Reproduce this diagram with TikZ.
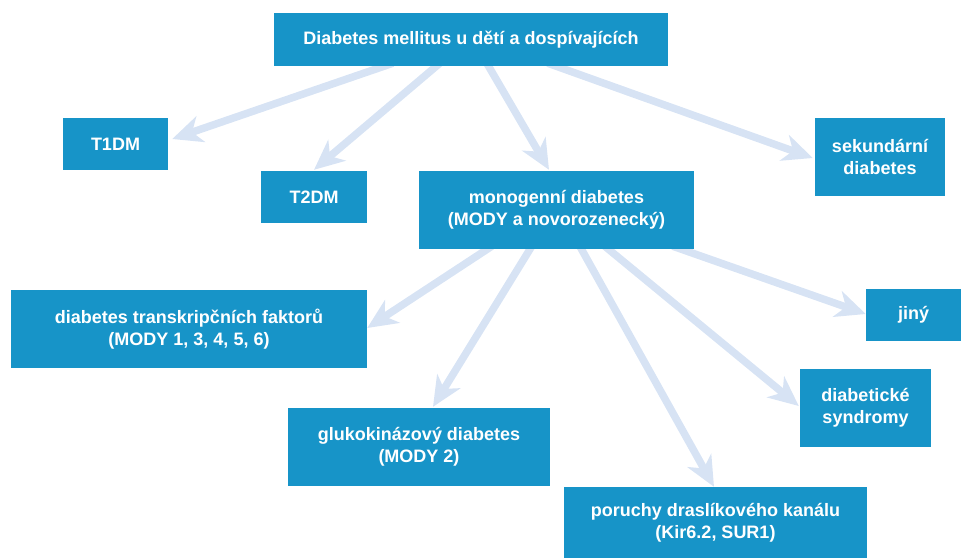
\documentclass[tikz,border=0pt]{standalone}
\usepackage{fontspec}
\setmainfont{Liberation Sans}
\usetikzlibrary{arrows.meta,backgrounds}
\definecolor{boxblue}{HTML}{1794C8}
\definecolor{arrblue}{HTML}{D7E3F4}
\begin{document}
\begin{tikzpicture}[x=1pt,y=1pt,
  box/.style={fill=boxblue, text=white, font=\fontsize{18}{22}\selectfont\bfseries, align=center, inner sep=0pt, draw=none},
  arr/.style={draw=arrblue, line width=7.5pt, -{Stealth[length=30pt,width=27pt,inset=9pt]}}]
\useasboundingbox (0,0) rectangle (961,-558);
\node[box, minimum width=394, minimum height=53] (top) at (471,-39.5) {Diabetes mellitus u dětí a dospívajících};
\node[box, minimum width=105, minimum height=52] (t1) at (115.5,-144) {T1DM};
\node[box, minimum width=106, minimum height=52] (t2) at (314,-197) {T2DM};
\node[box, minimum width=275, minimum height=78] (mono) at (556.5,-210) {monogenní diabetes\\(MODY a novorozenecký)};
\node[box, minimum width=130, minimum height=78] (sek) at (880,-157) {sekundární\\diabetes};
\node[box, minimum width=356, minimum height=78] (tf) at (189,-329) {diabetes transkripčních faktorů\\(MODY 1, 3, 4, 5, 6)};
\node[box, minimum width=95, minimum height=52] (jiny) at (913.5,-315) {jiný};
\node[box, minimum width=131, minimum height=78] (synd) at (865.5,-408) {diabetické\\syndromy};
\node[box, minimum width=262, minimum height=78] (gk) at (419,-447) {glukokinázový diabetes\\(MODY 2)};
\node[box, minimum width=303, minimum height=71] (por) at (715.5,-522.5) {poruchy draslíkového kanálu\\(Kir6.2, SUR1)};
\begin{scope}[on background layer]
\draw[arr] ([shift={(119,3)}]top.south west) -- ([shift={(4,5)}]t1.east);
\draw[arr] ([shift={(166,3)}]top.south west) -- ([yshift=1]t2.north);
\draw[arr] ([shift={(213,3)}]top.south west) -- ([shift={(-7.5,1)}]mono.north);
\draw[arr] ([shift={(274,3)}]top.south west) -- ([shift={(-2,-1)}]sek.west);
\draw[arr] ([shift={(73,3)}]mono.south west) -- ([yshift=1]tf.east);
\draw[arr] ([shift={(113,3)}]mono.south west) -- ([shift={(14,1)}]gk.north);
\draw[arr] ([shift={(161,3)}]mono.south west) -- ([xshift=-1.5]por.north);
\draw[arr] ([shift={(186,3)}]mono.south west) -- ([shift={(-1,2)}]synd.west);
\draw[arr] ([shift={(254,3)}]mono.south west) -- ([yshift=1]jiny.west);
\end{scope}
\end{tikzpicture}
\end{document}
